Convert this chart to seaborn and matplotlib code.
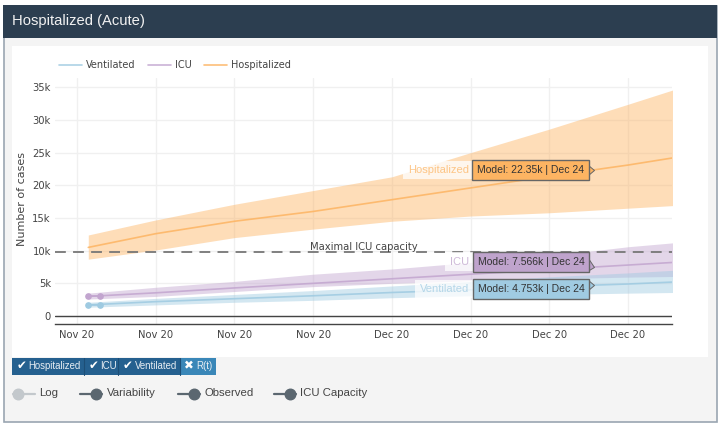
import numpy as np
import pandas as pd
import matplotlib
matplotlib.use("Agg")
import matplotlib.pyplot as plt
import matplotlib.dates as mdates
from matplotlib.lines import Line2D
from matplotlib.patches import Rectangle
from matplotlib.path import Path
import seaborn as sns

# ---------- data ----------
dates = ["2020-11-09", "2020-11-15", "2020-11-22", "2020-11-29", "2020-12-06",
         "2020-12-13", "2020-12-20", "2020-12-27", "2020-12-31"]
hosp_mid = [10.5, 12.6, 14.5, 16.0, 17.8, 19.6, 21.4, 23.1, 24.2]
hosp_up = [12.4, 14.7, 17.1, 19.2, 21.3, 25.0, 28.6, 32.4, 34.6]
hosp_lo = [8.7, 10.1, 12.0, 13.3, 14.5, 15.3, 15.8, 16.5, 16.9]
icu_mid = [3.0, 3.55, 4.3, 5.0, 5.7, 6.4, 7.1, 7.8, 8.2]
icu_up = [3.5, 4.4, 5.3, 6.4, 7.2, 8.2, 9.2, 10.6, 11.2]
icu_lo = [2.6, 3.0, 3.75, 4.5, 5.0, 5.4, 5.7, 5.95, 6.05]
vent_mid = [1.7, 2.2, 2.65, 3.1, 3.6, 4.0, 4.5, 4.9, 5.2]
vent_up = [2.1, 2.7, 3.3, 3.9, 4.6, 5.3, 6.0, 6.6, 7.0]
vent_lo = [1.35, 1.7, 2.1, 2.4, 2.8, 3.1, 3.3, 3.5, 3.6]
obs_dates = ["2020-11-09", "2020-11-10"]
obs_icu = [3.0, 3.0]
obs_vent = [1.7, 1.7]
icu_capacity = 9.87
tag_date = "2020-12-24"
tag_names = ["Hospitalized", "ICU", "Ventilated"]
tag_values = [22.35, 7.566, 4.753]
tag_texts = ["Model: 22.35k | Dec 24", "Model: 7.566k | Dec 24", "Model: 4.753k | Dec 24"]
tick_dates = ["2020-11-08", "2020-11-15", "2020-11-22", "2020-11-29",
              "2020-12-06", "2020-12-13", "2020-12-20", "2020-12-27"]
y_ticks = [0, 5, 10, 15, 20, 25, 30, 35]
y_labels = ["0", "5k", "10k", "15k", "20k", "25k", "30k", "35k"]
buttons = ["Hospitalized", "ICU", "Ventilated", "R(t)"]
toggles = ["Log", "Variability", "Observed", "ICU Capacity"]

# ---------- style ----------
W, H = 720, 425
sns.set_theme(style="white")
plt.rcParams["font.family"] = ["DejaVu Sans"]
UI = ["Liberation Sans", "DejaVu Sans"]
C_H, C_I, C_V = "#fdb462", "#c2a5cf", "#9ecae1"
TXT = "#444444"
palette = {"Ventilated": C_V, "ICU": C_I, "Hospitalized": C_H}

fig = plt.figure(figsize=(W / 100, H / 100), dpi=100, facecolor="white")


def fx(px):
    return px / W


def fy(py):
    return 1 - py / H


def box(x0, y0, x1, y1, color, z=-5, ec="none", lw=0):
    fig.add_artist(Rectangle((fx(x0), fy(y1)), (x1 - x0) / W, (y1 - y0) / H,
                             transform=fig.transFigure, fc=color, ec=ec, lw=lw, zorder=z))


# ---------- panel ----------
box(3.5, 5.5, 716.5, 421.5, "#f4f4f4", z=-6, ec="#9aa5b1", lw=1.2)
box(3, 5, 717, 38, "#2c3e50", z=-5)
box(12, 46, 708, 357, "#ffffff", z=-5)
fig.text(fx(12), fy(21), "Hospitalized (Acute)", color="#f2f2f2", fontsize=10.6,
         family=UI, va="center", ha="left")

# ---------- axes ----------
ax = fig.add_axes([fx(55), fy(324), (672 - 55) / W, (324 - 78) / H], facecolor="none")
t = pd.to_datetime(dates)
frames = []
for name, mid in [("Ventilated", vent_mid), ("ICU", icu_mid), ("Hospitalized", hosp_mid)]:
    frames.append(pd.DataFrame({"date": t, "value": mid, "series": name}))
df = pd.concat(frames, ignore_index=True)

for up, lo, c in [(hosp_up, hosp_lo, C_H), (icu_up, icu_lo, C_I), (vent_up, vent_lo, C_V)]:
    ax.fill_between(t, lo, up, color=c, alpha=0.45, lw=0, zorder=2)
sns.lineplot(data=df, x="date", y="value", hue="series", palette=palette,
             hue_order=["Ventilated", "ICU", "Hospitalized"], errorbar=None,
             lw=1.2, alpha=0.85, ax=ax, zorder=3)
ot = pd.to_datetime(obs_dates)
ax.plot(ot, obs_icu, "-o", color=C_I, ms=3.8, lw=1.1, zorder=4)
ax.plot(ot, obs_vent, "-o", color=C_V, ms=3.8, lw=1.1, zorder=4)

ax.axhline(0, color=TXT, lw=1, zorder=2.5)
ax.axhline(icu_capacity, color="#777777", lw=1.3, dashes=(6, 4), zorder=5)
ax.annotate("Maximal ICU capacity", xy=(pd.Timestamp("2020-12-03 12:00"), icu_capacity),
            xytext=(0, 0), textcoords="offset points", ha="center", va="bottom",
            fontsize=7.2, color=TXT, zorder=6)

x0_num = mdates.date2num(pd.Timestamp("2020-11-08"))
ax.set_xlim(x0_num - 1.96, x0_num + 49 + 3.91)
ax.set_ylim(-1.22, 36.42)
ax.set_xticks(pd.to_datetime(tick_dates))
ax.xaxis.set_major_formatter(mdates.DateFormatter("%b %y"))
ax.set_yticks(y_ticks)
ax.set_yticklabels(y_labels)
ax.grid(True, color="#f0f0f0", lw=1)
ax.set_axisbelow(True)
ax.tick_params(axis="both", length=0, labelsize=7.2, labelcolor=TXT, pad=3)
ax.tick_params(axis="x", pad=4)
for s in ["top", "right", "left"]:
    ax.spines[s].set_visible(False)
ax.spines["bottom"].set_color(TXT)
ax.spines["bottom"].set_linewidth(1)
ax.set_xlabel("")
ax.set_ylabel("")
fig.text(fx(22.5), fy(199), "Number of cases", rotation=90, fontsize=8, color=TXT,
         ha="center", va="center")

# legend
handles, labels = ax.get_legend_handles_labels()
leg = ax.legend(handles[:3], labels[:3], ncol=3, frameon=False, fontsize=7.0,
                loc="center left", bbox_to_anchor=(fx(59), fy(65.5)),
                bbox_transform=fig.transFigure, borderaxespad=0, borderpad=0,
                handlelength=2.35, handletextpad=0.4, columnspacing=1.3)
for txt in leg.get_texts():
    txt.set_color(TXT)

# ---------- value tags ----------
PT = 72 / 100
tag_num = mdates.date2num(pd.Timestamp(tag_date))
tag_colors = [C_H, "#bfa3cc", "#a0cbe2"]
tag_shift = [0, 4.8, -4.0]          # vertical displacement of each tag, px
tag_notch = [(5, -5), (9, -3.5), (5, -5)]
for name, val, txt, col, dy, (nu, nd) in zip(tag_names, tag_values, tag_texts,
                                             tag_colors, tag_shift, tag_notch):
    ax.annotate(txt, xy=(tag_num, val), xytext=(-10 * PT, dy * PT),
                textcoords="offset points", ha="right", va="center", fontsize=7.5,
                family=UI, color="#333333", zorder=12,
                bbox=dict(boxstyle="square,pad=0.48", fc=col, ec="#666666", lw=1))
    ax.annotate(name, xy=(tag_num, val), xytext=(-125.5 * PT, dy * PT),
                textcoords="offset points", ha="right", va="center", fontsize=8,
                family=UI, color=(*matplotlib.colors.to_rgb(col), 0.75), zorder=11,
                bbox=dict(boxstyle="square,pad=0.4", fc=(1, 1, 1, 0.75), ec="none"))
    notch = Path([(-6, nu), (0, 0), (-6, nd), (-6, nu)],
                 [Path.MOVETO, Path.LINETO, Path.LINETO, Path.CLOSEPOLY])
    ax.plot([tag_num], [val], marker=notch, ms=2 * max(6, nu, abs(nd)) * PT, mfc=col,
            mec="#666666", mew=0.7, zorder=11.5, clip_on=False)

# ---------- buttons ----------
edges = [12, 84, 118, 180, 216]
btn_cols = ["#25608f", "#25608f", "#25608f", "#3a87b8"]
marks = ["\u2714", "\u2714", "\u2714", "\u2716"]
for i, (b, c, m) in enumerate(zip(buttons, btn_cols, marks)):
    box(edges[i], 357.5, edges[i + 1], 374.5, c, z=1)
    if i:
        fig.add_artist(Line2D([fx(edges[i])] * 2, [fy(357.5), fy(374.5)], color="#1d4e76",
                              lw=0.8, zorder=2))
    fig.text(fx(edges[i] + 4.5), fy(366), m, color="white", fontsize=8.5,
             family=["DejaVu Sans"], va="center", ha="left", zorder=3)
    fig.text(fx(edges[i] + 16.5), fy(366), b,
             color="#e8eef3", fontsize=6.9, family=UI, va="center", ha="left", zorder=3)

# ---------- toggles ----------
tog_x = [13, 80, 178, 274]
tog_on = [False, True, True, True]
for xx, name, on in zip(tog_x, toggles, tog_on):
    col = "#5b6770" if on else "#c3c8cc"
    knob = xx + 16 if on else xx + 5
    fig.add_artist(Line2D([fx(xx), fx(xx + 22)], [fy(393.5)] * 2, color=col, lw=1.6, zorder=2))
    fig.add_artist(Line2D([fx(knob)], [fy(393.5)], marker="o", ms=7.6, color=col, lw=0, zorder=3))
    fig.text(fx(xx + 26.5), fy(393.5), name, color="#444444", fontsize=8.2, family=UI,
             va="center", ha="left")

fig.savefig("out.png", dpi=100, facecolor="white")
